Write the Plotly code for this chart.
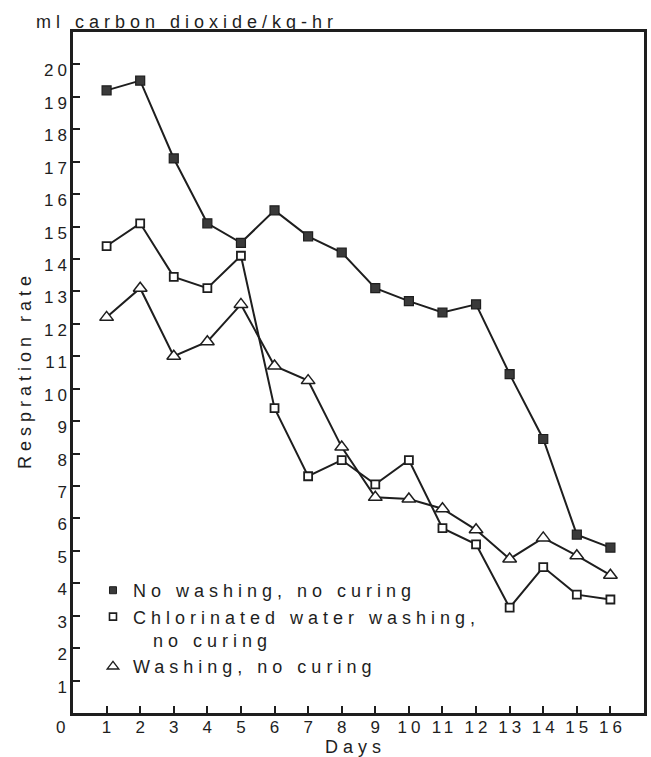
import plotly.graph_objects as go

days = list(range(1, 17))
no_washing = [19.2, 19.5, 17.1, 15.1, 14.5, 15.5, 14.7, 14.2, 13.1, 12.7, 12.35, 12.6, 10.45, 8.45, 5.5, 5.1]
chlorinated = [14.4, 15.1, 13.45, 13.1, 14.1, 9.4, 7.3, 7.8, 7.05, 7.8, 5.7, 5.2, 3.25, 4.5, 3.65, 3.5]
washing = [12.2, 13.1, 11.0, 11.45, 12.6, 10.7, 10.25, 8.2, 6.65, 6.6, 6.3, 5.65, 4.75, 5.4, 4.85, 4.25]

names = ["No washing, no curing",
         "Chlorinated water washing,<br>\u00a0\u00a0no curing",
         "Washing, no curing"]
x_ticks = list(range(1, 17))
y_ticks = list(range(1, 21))

INK = "#1e1e1e"
FONT = "Liberation Sans, Arial, Helvetica, sans-serif"

fig = go.Figure()

# data lines
fig.add_trace(go.Scatter(x=days, y=no_washing, mode="lines+markers", showlegend=False,
                         line=dict(color=INK, width=2),
                         marker=dict(symbol="square", size=9, color="#3a3a3a",
                                     line=dict(color=INK, width=1.2))))
fig.add_trace(go.Scatter(x=days, y=chlorinated, mode="lines+markers", showlegend=False,
                         line=dict(color=INK, width=2),
                         marker=dict(symbol="square", size=8, color="white",
                                     line=dict(color=INK, width=1.8))))
fig.add_trace(go.Scatter(x=days, y=washing, mode="lines+markers", showlegend=False,
                         line=dict(color=INK, width=2),
                         marker=dict(symbol="triangle-up", size=12, color="white",
                                     line=dict(color=INK, width=1.5))))

# legend-only entries (markers only)
fig.add_trace(go.Scatter(x=[None], y=[None], mode="markers", name=names[0],
                         marker=dict(symbol="square", size=7, color="#3a3a3a",
                                     line=dict(color=INK, width=1))))
fig.add_trace(go.Scatter(x=[None], y=[None], mode="markers", name=names[1],
                         marker=dict(symbol="square", size=7, color="white",
                                     line=dict(color=INK, width=1.6))))
fig.add_trace(go.Scatter(x=[None], y=[None], mode="markers", name=names[2],
                         marker=dict(symbol="triangle-up", size=10, color="white",
                                     line=dict(color=INK, width=1.4))))

fig.update_layout(
    width=651, height=757,
    margin=dict(l=73, r=7, t=32, b=44),
    paper_bgcolor="white", plot_bgcolor="white",
    font=dict(family=FONT, size=17, color=INK),
    showlegend=True,
    title=dict(text="ml carbon dioxide/kg-hr", xref="container", yref="paper",
               x=36 / 651, y=1.0, xanchor="left", yanchor="bottom",
               pad=dict(b=4, t=0, l=0, r=0), font=dict(size=18, color=INK)),
    legend=dict(x=0.035, y=0.207, xanchor="left", yanchor="top",
                bgcolor="rgba(0,0,0,0)", font=dict(size=18, color=INK),
                valign="top", itemwidth=30, tracegroupgap=0),
    xaxis=dict(range=[0, 17], tickmode="array", tickvals=x_ticks,
               ticktext=[str(v) for v in x_ticks],
               ticks="inside", ticklen=7, tickwidth=2, tickcolor=INK,
               showline=True, linewidth=2.5, linecolor=INK, mirror=True,
               showgrid=False, zeroline=False, automargin=False,
               tickfont=dict(size=17), ticklabelstandoff=-3,
               title=dict(text="Days", font=dict(size=18), standoff=14)),
    yaxis=dict(range=[0, 21], tickmode="array", tickvals=y_ticks,
               ticktext=[str(v) for v in y_ticks],
               ticks="inside", ticklen=7, tickwidth=2, tickcolor=INK,
               showline=True, linewidth=2.5, linecolor=INK, mirror=True,
               showgrid=False, zeroline=False, automargin=False,
               tickfont=dict(size=17), ticklabelshift=6,
               title=dict(text="Respration rate", font=dict(size=18), standoff=12)),
    annotations=[
        dict(text="0", xref="x", yref="paper", x=0, y=0, xanchor="center",
             yanchor="top", xshift=-13, yshift=-3, showarrow=False,
             font=dict(size=17, color=INK)),
    ],
)

post = """
document.body.style.margin = '0';
document.documentElement.style.overflow = 'hidden';
document.body.style.overflow = 'hidden';
var gd = document.getElementById('{plot_id}');
function spacing(){
  function st(sel, ls, dx){
    gd.querySelectorAll(sel).forEach(function(t){
      t.style.letterSpacing = ls + 'px';
      if (dx) { t.setAttribute('dx', dx); }
    });
  }
  st('.xtick text', 4, 2);
  st('.ytick text', 4, 4);
  st('.legendtext', 5, 0);
  st('.g-xtitle text', 5, -3);
  st('.g-ytitle text', 5, 2.5);
  st('.gtitle', 5, 0);
  gd.querySelectorAll('.legend [clip-path]').forEach(function(e){ e.removeAttribute('clip-path'); });
}
spacing();
gd.on('plotly_afterplot', spacing);
"""

fig.write_html("out.html", post_script=post, config={"displayModeBar": False})
